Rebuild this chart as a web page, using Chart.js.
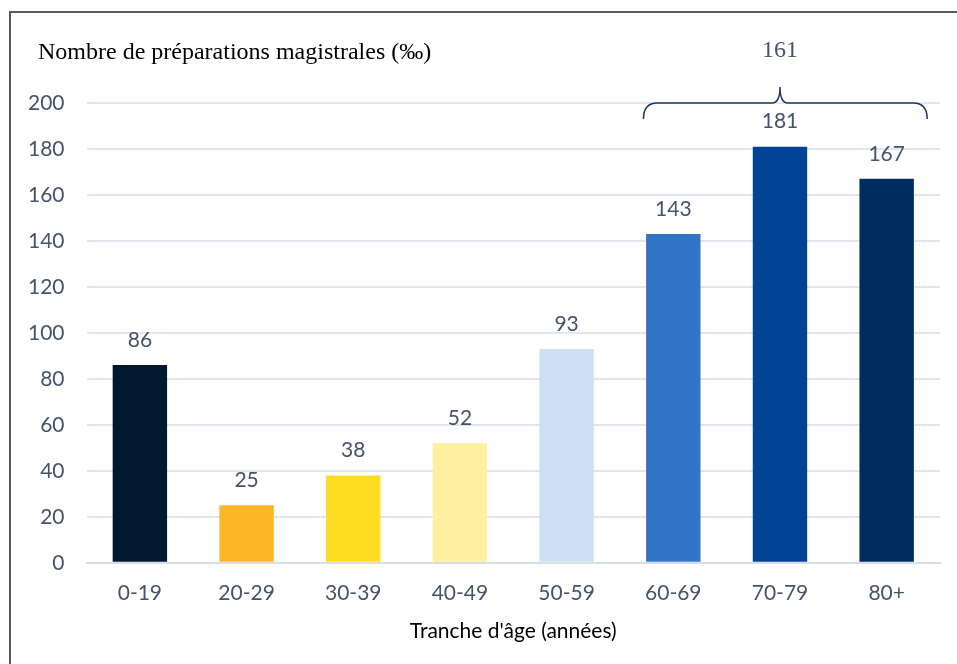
<!DOCTYPE html>
<html>
<head>
<meta charset="utf-8">
<script src="https://cdn.jsdelivr.net/npm/chart.js@4.4.1/dist/chart.umd.min.js"></script>
<style>
  html, body { margin: 0; padding: 0; background: #fff; }
  #wrap { width: 957px; height: 664px; position: relative; }
</style>
</head>
<body>
<div id="wrap"><canvas id="chart" width="957" height="664"></canvas></div>
<script>
const categories = ['0-19', '20-29', '30-39', '40-49', '50-59', '60-69', '70-79', '80+'];
const values = [86, 25, 38, 52, 93, 143, 181, 167];
const barColors = ['#03172F', '#FDB626', '#FFDD22', '#FEF0A0', '#CFDFF5', '#3275C7', '#014495', '#002D5F'];
const yTicks = [0, 20, 40, 60, 80, 100, 120, 140, 160, 180, 200];
const groupLabel = '161';
const groupRange = [5, 7];

const TEXT_COLOR = '#44546A';
const SANS = 'Lato, "Open Sans", sans-serif';
const SERIF = '"Liberation Serif", "Times New Roman", serif';

// value labels above the bars
const valueLabels = {
    id: 'valueLabels',
    afterDatasetsDraw(chart) {
        const ctx = chart.ctx;
        const meta = chart.getDatasetMeta(0);
        ctx.save();
        ctx.font = '21px ' + SANS;
        ctx.fillStyle = TEXT_COLOR;
        ctx.textAlign = 'center';
        ctx.textBaseline = 'middle';
        meta.data.forEach((bar, i) => {
            ctx.fillText(String(values[i]), bar.x, bar.y - 25);
        });
        ctx.restore();
    }
};

// title, axis title, frame, brace with group value
const decorations = {
    id: 'decorations',
    afterDraw(chart) {
        const ctx = chart.ctx;
        const x = chart.scales.x;
        const y = chart.scales.y;
        const area = chart.chartArea;
        ctx.save();

        ctx.strokeStyle = '#595959';
        ctx.lineWidth = 2;
        ctx.beginPath();
        ctx.moveTo(10, 700);
        ctx.lineTo(10, 12);
        ctx.lineTo(1000, 12);
        ctx.stroke();

        ctx.font = '24px ' + SERIF;
        ctx.fillStyle = '#000';
        ctx.textAlign = 'left';
        ctx.textBaseline = 'middle';
        ctx.fillText('Nombre de préparations magistrales (‰)', 38, 53);

        ctx.font = '21px ' + SANS;
        ctx.textAlign = 'center';
        ctx.fillText("Tranche d'âge (années)", (area.left + area.right) / 2, 631);

        const step = x.getPixelForValue(1) - x.getPixelForValue(0);
        const x0 = x.getPixelForValue(groupRange[0]) - step * 0.28;
        const x1 = x.getPixelForValue(groupRange[1]) + step * 0.38;
        const xm = x.getPixelForValue((groupRange[0] + groupRange[1]) / 2);
        const yl = y.getPixelForValue(200);
        const r = 14;
        ctx.strokeStyle = '#1F3864';
        ctx.lineWidth = 1.5;
        ctx.beginPath();
        ctx.moveTo(x0, yl + 16);
        ctx.quadraticCurveTo(x0, yl, x0 + r, yl);
        ctx.lineTo(xm - 8, yl);
        ctx.quadraticCurveTo(xm, yl, xm, yl - 16);
        ctx.quadraticCurveTo(xm, yl, xm + 8, yl);
        ctx.lineTo(x1 - r, yl);
        ctx.quadraticCurveTo(x1, yl, x1, yl + 16);
        ctx.stroke();

        ctx.font = '24px ' + SERIF;
        ctx.fillStyle = TEXT_COLOR;
        ctx.fillText(groupLabel, xm, 51);
        ctx.restore();
    }
};

new Chart(document.getElementById('chart'), {
    type: 'bar',
    data: {
        labels: categories,
        datasets: [{
            data: values,
            backgroundColor: barColors,
            barPercentage: 0.51,
            categoryPercentage: 1
        }]
    },
    options: {
        responsive: false,
        animation: false,
        layout: {
            padding: {left: 6, right: 17, top: 103, bottom: 48}
        },
        plugins: {
            legend: {display: false},
            tooltip: {enabled: false}
        },
        scales: {
            x: {
                grid: {display: false},
                border: {color: '#D9DEE6', width: 2},
                ticks: {color: TEXT_COLOR, font: {family: SANS, size: 21}, padding: 10}
            },
            y: {
                min: 0,
                max: 200,
                afterBuildTicks(axis) {
                    axis.ticks = yTicks.map(v => ({value: v}));
                },
                grid: {color: '#E1E5EC', lineWidth: 2, drawTicks: false},
                border: {display: false},
                ticks: {color: TEXT_COLOR, font: {family: SANS, size: 21}, padding: 22}
            }
        }
    },
    plugins: [valueLabels, decorations]
});
</script>
</body>
</html>
